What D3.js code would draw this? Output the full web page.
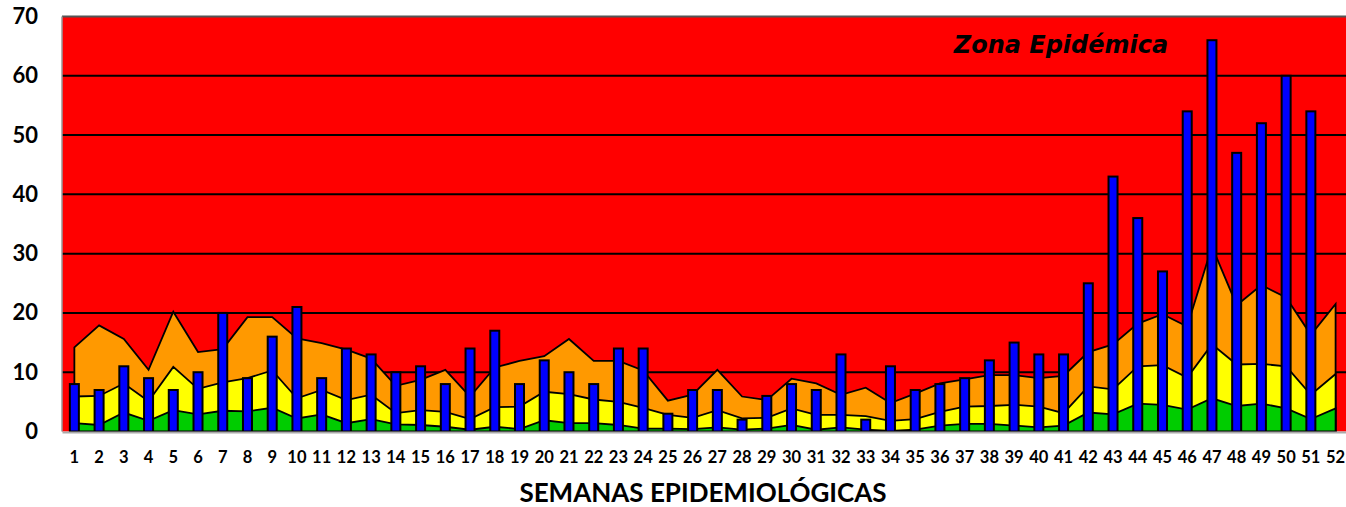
<!DOCTYPE html>
<html>
<head>
<meta charset="utf-8">
<script src="https://cdn.jsdelivr.net/npm/d3@7"></script>
<style>
  body { margin: 0; background: #fff; }
  svg { display: block; }
  text { font-family: Lato, "Open Sans", sans-serif; font-weight: 700; fill: #000; }
</style>
</head>
<body>
<div id="chart"></div>
<script>
// epidemiological weeks 1..52
var weeks = d3.range(1, 53);

// reported cases per week (no value for week 52)
var cases = [8, 7, 11, 9, 7, 10, 20, 9, 16, 21, 9, 14, 13, 10, 11, 8, 14, 17, 8, 12,
    10, 8, 14, 14, 3, 7, 7, 2, 6, 8, 7, 13, 2, 11, 7, 8, 9, 12, 15, 13,
    13, 25, 43, 36, 27, 54, 66, 47, 52, 60, 54, null];

// endemic channel limits (upper edge of each zone)
var exito = [1.4, 1.1, 3.2, 1.8, 3.6, 2.9, 3.5, 3.4, 4.0, 2.2, 2.9, 1.4, 2.1, 1.2, 1.1, 0.8, 0.3, 0.8, 0.4, 1.9,
    1.4, 1.4, 1.1, 0.5, 0.5, 0.4, 0.7, 0.3, 0.5, 1.1, 0.3, 0.7, 0.3, 0.1, 0.3, 1.0, 1.3, 1.3, 1.0, 0.7,
    1.0, 3.2, 2.9, 4.7, 4.5, 3.7, 5.6, 4.3, 4.7, 3.9, 2.1, 3.9];
var seguridad = [5.9, 6.0, 8.1, 5.1, 10.9, 7.2, 8.3, 9.0, 10.3, 5.6, 7.0, 5.3, 6.2, 3.1, 3.6, 3.3, 2.1, 4.1, 4.2, 6.7,
    6.3, 5.4, 5.0, 4.0, 2.8, 2.3, 3.6, 2.2, 2.3, 3.9, 2.8, 2.8, 2.6, 1.8, 2.1, 3.3, 4.2, 4.3, 4.5, 4.2,
    3.1, 7.6, 7.1, 11.0, 11.2, 9.1, 14.7, 11.3, 11.4, 11.0, 6.2, 9.7];
var alarma = [14.2, 17.9, 15.6, 10.4, 20.2, 13.4, 13.9, 19.3, 19.3, 15.7, 14.9, 13.8, 12.3, 7.7, 8.7, 10.4, 5.9, 10.8, 11.9, 12.7,
    15.6, 11.9, 11.9, 10.3, 5.2, 6.2, 10.4, 5.9, 5.3, 8.9, 8.1, 6.2, 7.4, 4.8, 6.4, 8.1, 8.8, 9.5, 9.5, 9.0,
    9.4, 13.4, 14.7, 18.2, 19.8, 17.7, 31.2, 21.3, 24.7, 22.6, 16.3, 21.5];

var yTicks = [0, 10, 20, 30, 40, 50, 60, 70];

var width = 1346, height = 507;
var plot = {left: 62, top: 16.5, bottom: 431.5, step: 24.73};

var svg = d3.select("#chart").append("svg")
    .attr("width", width)
    .attr("height", height);

var x = d3.scaleBand()
    .domain(weeks)
    .range([plot.left, plot.left + plot.step * weeks.length])
    .padding(0);

var y = d3.scaleLinear()
    .domain([0, 70])
    .range([plot.bottom, plot.top]);

var cx = function(w) { return x(w) + x.bandwidth() / 2; };

// epidemic zone = plot background
svg.append("rect")
    .attr("x", plot.left)
    .attr("y", y(70))
    .attr("width", x.range()[1] - plot.left)
    .attr("height", y(0) - y(70))
    .attr("fill", "#ff0000");

// gridlines
svg.append("g")
    .selectAll("line")
    .data(yTicks.filter(function(d) { return d > 0 && d < 70; }))
    .enter().append("line")
    .attr("x1", plot.left)
    .attr("x2", width)
    .attr("y1", function(d) { return y(d); })
    .attr("y2", function(d) { return y(d); })
    .attr("stroke", "#000")
    .attr("stroke-width", 2);

// zones, drawn from the top one down so the lower ones sit on top
var zones = [
    {values: alarma, color: "#ff9900"},
    {values: seguridad, color: "#ffff00"},
    {values: exito, color: "#00cc00"}
];

zones.forEach(function(z) {
    var area = d3.area()
        .x(function(d, i) { return cx(weeks[i]); })
        .y0(y(0))
        .y1(function(d) { return y(d); });
    svg.append("path")
        .datum(z.values)
        .attr("d", area)
        .attr("fill", z.color)
        .attr("stroke", "#000")
        .attr("stroke-width", 1.8)
        .attr("stroke-linejoin", "miter")
        .attr("stroke-miterlimit", 10);
});

// bars
var barW = 9;
svg.append("g")
    .selectAll("rect")
    .data(weeks.filter(function(w, i) { return cases[i] != null; }))
    .enter().append("rect")
    .attr("x", function(w) { return cx(w) - barW / 2; })
    .attr("y", function(w) { return y(cases[w - 1]); })
    .attr("width", barW)
    .attr("height", function(w) { return y(0) - y(cases[w - 1]); })
    .attr("fill", "#0000ff")
    .attr("stroke", "#000")
    .attr("stroke-width", 2);

// frame
svg.append("line")
    .attr("x1", plot.left).attr("x2", width)
    .attr("y1", y(70)).attr("y2", y(70))
    .attr("stroke", "#555").attr("stroke-width", 2);
svg.append("line")
    .attr("x1", plot.left).attr("x2", plot.left)
    .attr("y1", y(70)).attr("y2", y(0))
    .attr("stroke", "#999").attr("stroke-width", 1.5);

// x axis
var xAxis = d3.axisBottom(x).tickSize(0).tickPadding(19);
var gx = svg.append("g")
    .attr("transform", "translate(0," + (y(0) + 0.5) + ")")
    .call(xAxis);
gx.select(".domain").attr("stroke", "#aaa").attr("stroke-width", 2);
gx.selectAll("text")
    .style("font-size", "16.5px")
    .style("font-family", "Lato, sans-serif")
    .style("font-weight", "700")
    .attr("fill", "#000");

// y axis labels
var yAxis = d3.axisLeft(y).tickValues(yTicks).tickSize(0).tickPadding(24);
var gy = svg.append("g")
    .attr("transform", "translate(" + plot.left + ",0)")
    .call(yAxis);
gy.select(".domain").remove();
gy.selectAll("text")
    .style("font-size", "22px")
    .style("font-family", "Lato, sans-serif")
    .style("font-weight", "700")
    .attr("fill", "#000");

// titles
svg.append("text")
    .attr("x", 703)
    .attr("y", 502)
    .attr("text-anchor", "middle")
    .style("font-size", "26px")
    .text("SEMANAS EPIDEMIOLÓGICAS");

svg.append("text")
    .attr("x", 1061)
    .attr("y", 53)
    .attr("text-anchor", "middle")
    .style("font-family", "'DejaVu Sans', sans-serif")
    .style("font-size", "24px")
    .style("font-style", "italic")
    .text("Zona Epidémica");
</script>
</body>
</html>
